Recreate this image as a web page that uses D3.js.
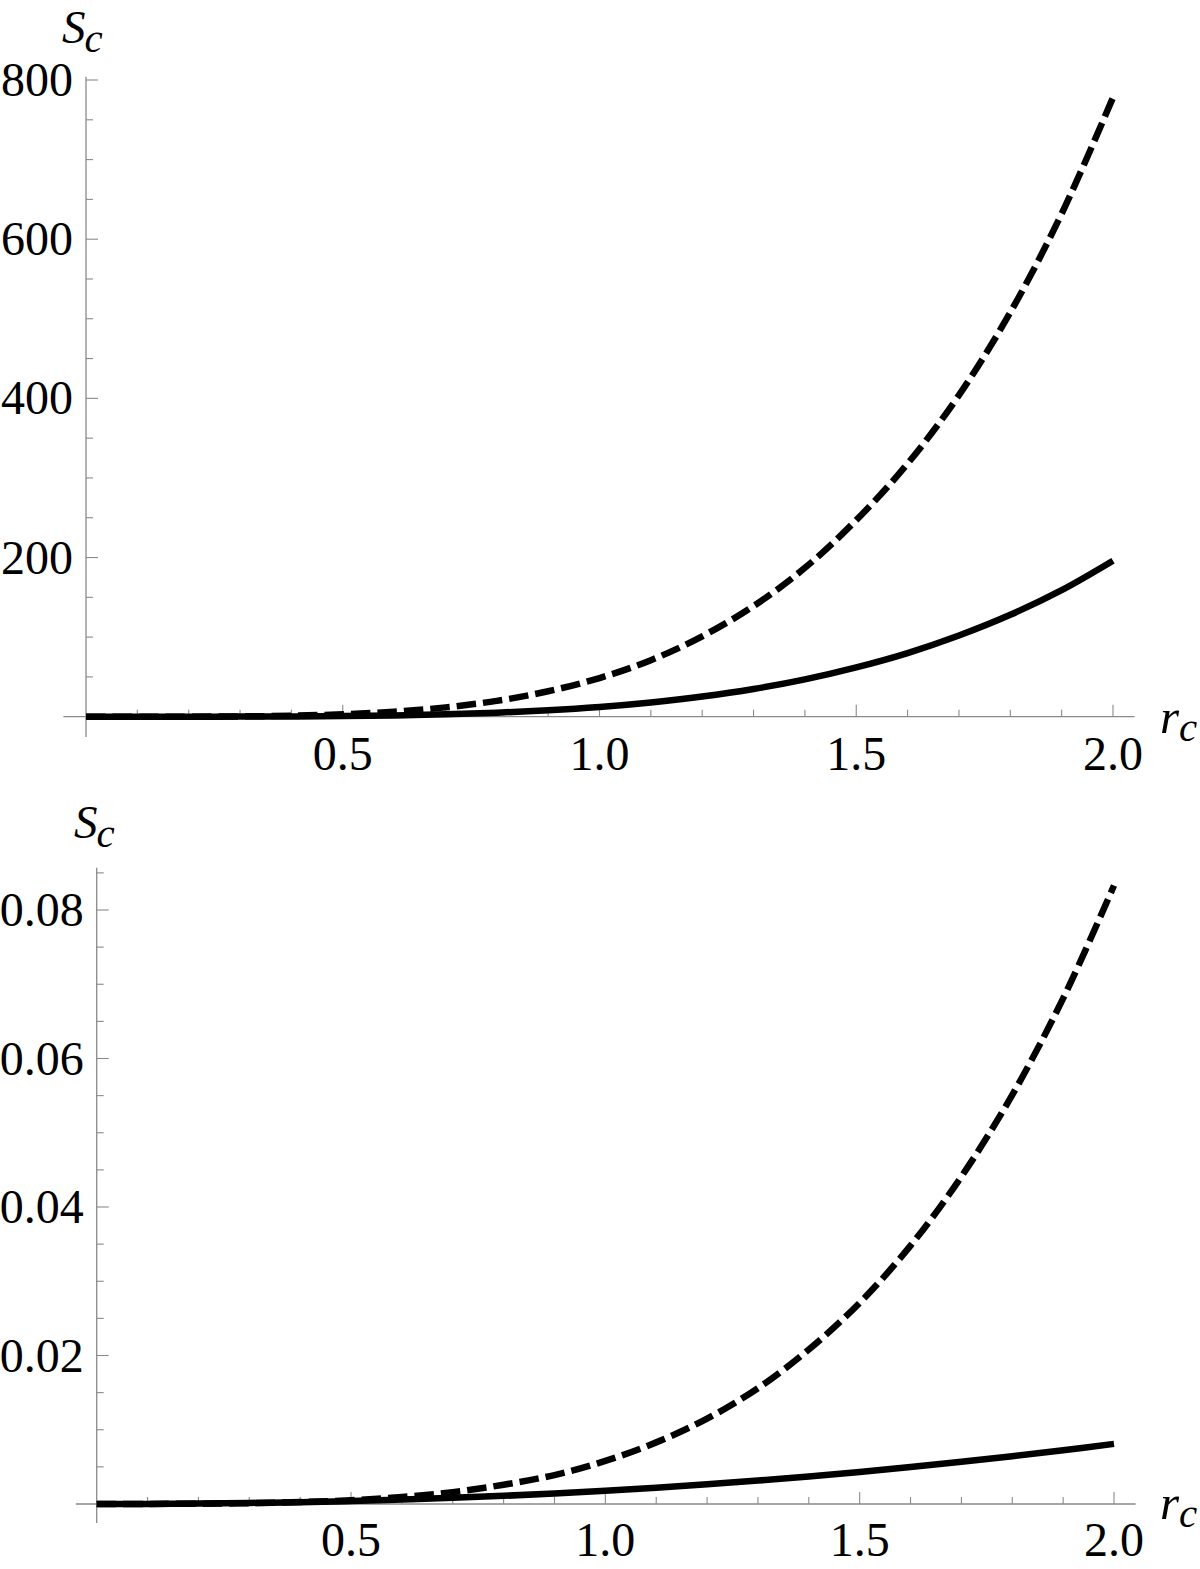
<!DOCTYPE html>
<html>
<head>
<meta charset="utf-8">
<script src="https://cdn.jsdelivr.net/npm/d3@7"></script>
<style>
  html, body { margin: 0; padding: 0; background: #fff; }
  svg { display: block; }
  text { font-family: "Liberation Serif", "Times New Roman", serif; fill: #000; }
</style>
</head>
<body>
<svg id="chart" width="1200" height="1569"></svg>
<script>
// ---- data ----
const rValues = [0, 0.1, 0.2, 0.3, 0.4, 0.5, 0.6, 0.7, 0.8, 0.9, 1.0, 1.1, 1.2, 1.3, 1.4, 1.5, 1.6, 1.7, 1.8, 1.9, 2.0];

const topSolid  = [0, 0.001, 0.02, 0.1, 0.31, 0.76, 1.58, 2.93, 5.0, 8.0, 12.2, 17.9, 25.3, 34.8, 46.9, 62, 80, 102, 128, 159, 196];
const topDashed = [0, 0.005, 0.08, 0.39, 1.24, 3.0, 6.3, 11.7, 19.9, 32, 48.6, 71, 101, 139, 187, 247, 318, 404, 508, 632, 778];

const bottomSolid  = [0, 0.00001, 0.00006, 0.00014, 0.00025, 0.0004, 0.0006, 0.00083, 0.0011, 0.00143, 0.0018, 0.0022, 0.00265, 0.00315, 0.00371, 0.00431, 0.00497, 0.00568, 0.00643, 0.00724, 0.0081];
const bottomDashed = [0, 0.00001, 0.00004, 0.00011, 0.00026, 0.0005, 0.00094, 0.0016, 0.0026, 0.0039, 0.0058, 0.0083, 0.0115, 0.0156, 0.0208, 0.0271, 0.0348, 0.0441, 0.0551, 0.0681, 0.0833];

const xMajorTicks = [0.5, 1.0, 1.5, 2.0];
const xTickLabels = ["0.5", "1.0", "1.5", "2.0"];
const xMinorTicks = [0.1, 0.2, 0.3, 0.4, 0.6, 0.7, 0.8, 0.9, 1.1, 1.2, 1.3, 1.4, 1.6, 1.7, 1.8, 1.9];

const topYMajorTicks = [200, 400, 600, 800];
const topYTickLabels = ["200", "400", "600", "800"];
const topYMinorTicks = [50, 100, 150, 250, 300, 350, 450, 500, 550, 650, 700, 750];

const bottomYMajorTicks = [0.02, 0.04, 0.06, 0.08];
const bottomYTickLabels = ["0.02", "0.04", "0.06", "0.08"];
const bottomYMinorTicks = [0.005, 0.01, 0.015, 0.025, 0.03, 0.035, 0.045, 0.05, 0.055, 0.065, 0.07, 0.075, 0.085];

// ---- drawing ----
const svg = d3.select("#chart");
const AXIS_COLOR = "#8a8a8a";
const FS = 48;

function panel(cfg) {
  const g = svg.append("g");
  const x = d3.scaleLinear().domain([0, 2]).range(cfg.xRange);
  const y = d3.scaleLinear().domain(cfg.yDomain).range(cfg.yRange);

  // axes lines
  g.append("line")
    .attr("x1", x(cfg.xExtent[0])).attr("x2", x(cfg.xExtent[1]))
    .attr("y1", y(0)).attr("y2", y(0))
    .attr("stroke", AXIS_COLOR).attr("stroke-width", 1.3);
  g.append("line")
    .attr("x1", x(0)).attr("x2", x(0))
    .attr("y1", y(cfg.yExtent[0])).attr("y2", y(cfg.yExtent[1]))
    .attr("stroke", AXIS_COLOR).attr("stroke-width", 1.3);

  // x ticks (pointing up into plot)
  g.selectAll(".xmin").data(xMinorTicks).join("line")
    .attr("x1", d => x(d)).attr("x2", d => x(d))
    .attr("y1", y(0)).attr("y2", y(0) - 7)
    .attr("stroke", AXIS_COLOR).attr("stroke-width", 1.1);
  g.selectAll(".xmaj").data(xMajorTicks).join("line")
    .attr("x1", d => x(d)).attr("x2", d => x(d))
    .attr("y1", y(0)).attr("y2", y(0) - 12)
    .attr("stroke", AXIS_COLOR).attr("stroke-width", 1.1);
  g.selectAll(".xlab").data(xMajorTicks).join("text")
    .attr("x", d => x(d))
    .attr("y", cfg.xLabelBaseline)
    .attr("text-anchor", "middle")
    .attr("font-size", FS)
    .text((d, i) => xTickLabels[i]);

  // y ticks (pointing right into plot)
  g.selectAll(".ymin").data(cfg.yMinor).join("line")
    .attr("x1", x(0)).attr("x2", x(0) + 7)
    .attr("y1", d => y(d)).attr("y2", d => y(d))
    .attr("stroke", AXIS_COLOR).attr("stroke-width", 1.1);
  g.selectAll(".ymaj").data(cfg.yMajor).join("line")
    .attr("x1", x(0)).attr("x2", x(0) + 12)
    .attr("y1", d => y(d)).attr("y2", d => y(d))
    .attr("stroke", AXIS_COLOR).attr("stroke-width", 1.1);
  g.selectAll(".ylab").data(cfg.yMajor).join("text")
    .attr("x", x(0) - 13)
    .attr("y", d => y(d) + 16)
    .attr("text-anchor", "end")
    .attr("font-size", FS)
    .text((d, i) => cfg.yLabels[i]);

  // curves
  const line = d3.line()
    .x((d, i) => x(rValues[i]))
    .y(d => y(d))
    .curve(d3.curveCatmullRom.alpha(0.5));

  g.append("path").datum(cfg.dashed)
    .attr("d", line)
    .attr("fill", "none").attr("stroke", "#000")
    .attr("stroke-width", 6.5)
    .attr("stroke-dasharray", "19.5 7");
  g.append("path").datum(cfg.solid)
    .attr("d", line)
    .attr("fill", "none").attr("stroke", "#000")
    .attr("stroke-width", 6.5);

  // axis labels
  const sl = g.append("text")
    .attr("x", cfg.sPos[0]).attr("y", cfg.sPos[1])
    .attr("font-style", "italic").attr("font-size", 47);
  sl.append("tspan").text("S");
  sl.append("tspan").attr("font-size", 41).attr("dy", 9).attr("dx", -1).text("c");

  const rl = g.append("text")
    .attr("x", cfg.rPos[0]).attr("y", cfg.rPos[1])
    .attr("font-style", "italic").attr("font-size", 49);
  rl.append("tspan").text("r");
  rl.append("tspan").attr("font-size", 41).attr("dy", 8).attr("dx", 0).text("c");
}

panel({
  xRange: [86, 1113],
  yDomain: [0, 800], yRange: [716.7, 80],
  xExtent: [-0.044, 2.042], yExtent: [-25.5, 804],
  yMajor: topYMajorTicks, yMinor: topYMinorTicks, yLabels: topYTickLabels,
  xLabelBaseline: 770,
  solid: topSolid, dashed: topDashed,
  sPos: [62, 43], rPos: [1160, 733]
});

panel({
  xRange: [96.7, 1114],
  yDomain: [0, 0.08], yRange: [1504, 910],
  xExtent: [-0.041, 2.0425], yExtent: [-0.00256, 0.0857],
  yMajor: bottomYMajorTicks, yMinor: bottomYMinorTicks, yLabels: bottomYTickLabels,
  xLabelBaseline: 1556,
  solid: bottomSolid, dashed: bottomDashed,
  sPos: [74, 838], rPos: [1160, 1519]
});
</script>
</body>
</html>
